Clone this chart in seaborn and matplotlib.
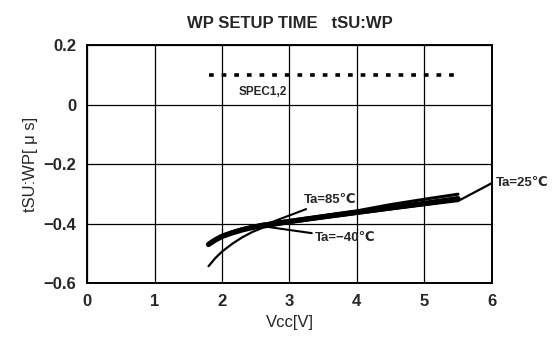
import matplotlib
matplotlib.use('Agg')
import matplotlib.pyplot as plt
import seaborn as sns
import pandas as pd

# Vcc points
vcc = [1.8, 1.9, 2.0, 2.15, 2.3, 2.45, 2.6, 3.0, 3.5, 4.0, 4.5, 5.0, 5.5]
vcc25 = [1.8, 1.9, 2.0, 2.15, 2.3, 2.45, 2.6, 3.0, 3.5, 4.0, 4.5, 5.0, 5.5, 6.0]

t_m40 = [-0.470, -0.455, -0.443, -0.431, -0.421, -0.413, -0.406, -0.393, -0.377, -0.362, -0.347, -0.332, -0.316]
t_85 = [-0.466, -0.451, -0.439, -0.427, -0.417, -0.409, -0.402, -0.389, -0.373, -0.357, -0.336, -0.318, -0.301]
t_25 = [-0.543, -0.516, -0.494, -0.468, -0.446, -0.428, -0.414, -0.397, -0.382, -0.367, -0.352, -0.338, -0.324, -0.264]

spec_x = [1.8, 5.5]
spec_y = [0.1, 0.1]

df = pd.concat([
    pd.DataFrame({'Vcc': vcc, 't': t_m40, 'Ta': '-40'}),
    pd.DataFrame({'Vcc': vcc, 't': t_85, 'Ta': '85'}),
    pd.DataFrame({'Vcc': vcc25, 't': t_25, 'Ta': '25'}),
])

sns.set_style('white')
plt.rcParams['font.family'] = ['Liberation Sans', 'DejaVu Sans']

fig = plt.figure(figsize=(5.55, 3.5), dpi=100)
ax = fig.add_axes([0.157, 0.191, 0.729, 0.68])

sns.lineplot(data=df[df.Ta == '-40'], x='Vcc', y='t', color='black', lw=3.8, ax=ax, legend=False)
sns.lineplot(data=df[df.Ta == '85'], x='Vcc', y='t', color='black', lw=2.2, ax=ax, legend=False)
sns.lineplot(data=df[df.Ta == '25'], x='Vcc', y='t', color='black', lw=1.6, ax=ax, legend=False)
sns.lineplot(x=spec_x, y=spec_y, color='black', lw=2.6, linestyle=(0, (1.3, 2.2)), ax=ax)

# labels with leader lines
ax.annotate('Ta=85℃', xy=(2.62, -0.405), xytext=(3.22, -0.32), fontsize=9.5, fontweight='bold',
            va='center', arrowprops=dict(arrowstyle='-', color='black', lw=1.5, shrinkA=0, shrinkB=0))
ax.annotate('Ta=\u221240℃', xy=(2.65, -0.41), xytext=(3.38, -0.448), fontsize=9.5, fontweight='bold',
            va='center', arrowprops=dict(arrowstyle='-', color='black', lw=1.5, shrinkA=0, shrinkB=0))
ax.annotate('Ta=25℃', xy=(6.0, -0.264), xytext=(6.06, -0.262), fontsize=9.5, fontweight='bold',
            va='center', annotation_clip=False)
ax.text(2.25, 0.043, 'SPEC1,2', fontsize=8.5, fontweight='bold', va='center')

ax.set_xlim(0, 6)
ax.set_ylim(-0.6, 0.2)
ax.set_xticks(range(7))
ax.set_yticks([-0.6, -0.4, -0.2, 0, 0.2])
ax.set_yticklabels(['\u22120.6', '\u22120.4', '\u22120.2', '0', '0.2'])
ax.grid(True, color='black', lw=0.9)
for s in ax.spines.values():
    s.set_color('black')
    s.set_linewidth(1.4)
ax.tick_params(length=0, labelsize=12, pad=8)
for lbl in ax.get_xticklabels() + ax.get_yticklabels():
    lbl.set_fontweight('bold')

ax.set_xlabel('Vcc[V]', fontsize=12, labelpad=4)
ax.set_ylabel('tSU:WP[ \u03bc s]', fontsize=12, labelpad=4)
ax.set_title('WP SETUP TIME   tSU:WP', fontsize=12, fontweight='bold', pad=12)

fig.savefig('out.png', dpi=100)
